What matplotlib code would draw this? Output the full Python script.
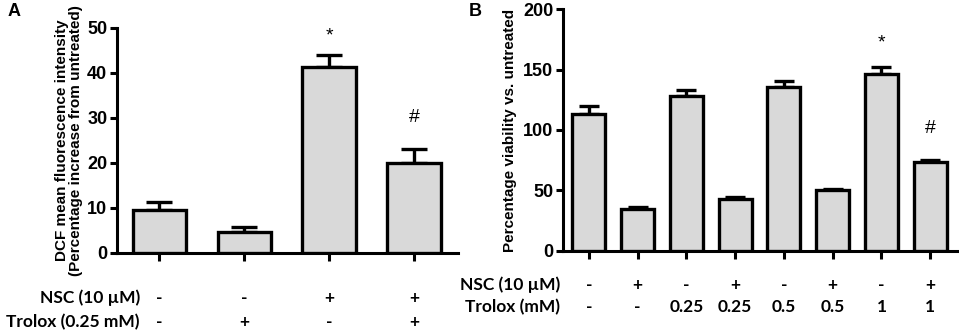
import matplotlib
matplotlib.use("Agg")
import matplotlib.pyplot as plt
import numpy as np

# panel A data
a_vals = [9.6, 4.7, 41.3, 19.9]
a_err = [1.8, 1.0, 2.7, 3.3]
a_nsc = ['-', '-', '+', '+']
a_trolox = ['-', '+', '-', '+']

# panel B data
b_vals = [113, 34.3, 128.4, 42.8, 135.6, 50.0, 146.4, 73.7]
b_err = [7.0, 2.2, 4.5, 2.0, 4.7, 1.4, 6.0, 1.7]
b_nsc = ['-', '+', '-', '+', '-', '+', '-', '+']
b_trolox = ['-', '-', '0.25', '0.25', '0.5', '0.5', '1', '1']

plt.rcParams['font.family'] = ['Liberation Sans', 'DejaVu Sans']
plt.rcParams['font.weight'] = 'bold'
row_font = ['Lato', 'DejaVu Sans']
row_size = 12.5

fig = plt.figure(figsize=(9.59, 3.32), dpi=100)
axA = fig.add_axes([0.122, 0.238, 0.3556, 0.6777])
axB = fig.add_axes([0.587, 0.2449, 0.411, 0.7271])

bar_col = '#d9d9d9'
lw = 2.4


def style_axis(ax):
    for s in ['top', 'right']:
        ax.spines[s].set_visible(False)
    for s in ['left', 'bottom']:
        ax.spines[s].set_linewidth(2.2)
    ax.tick_params(axis='both', width=2.2, length=5, labelsize=13, pad=2)
    ax.tick_params(axis='x', labelbottom=False, length=6)
    for t in ax.get_yticklabels():
        t.set_fontweight('bold')


def draw_bars(ax, vals, errs, width, capsize):
    x = np.arange(len(vals))
    ax.errorbar(x, vals, yerr=[np.zeros(len(vals)), errs], fmt='none',
                ecolor='black', elinewidth=lw, capsize=capsize, capthick=lw, zorder=2)
    ax.bar(x, vals, width=width, color=bar_col, edgecolor='black', linewidth=lw, zorder=3)
    ax.set_xticks(x)
    return x


def row_text(ax, x, y, s, trans, ha='center'):
    ax.text(x, y, s, transform=trans, ha=ha, va='center',
            fontsize=row_size, family=row_font, fontweight='bold')


# ---- panel A
xa = draw_bars(axA, a_vals, a_err, 0.63, 9.5)
axA.set_xlim(-0.5, 3.52)
axA.set_ylim(0, 50)
axA.set_yticks([0, 10, 20, 30, 40, 50])
style_axis(axA)
axA.set_ylabel('DCF mean fluorescence intensity\n(Percentage increase from untreated)',
               fontsize=11, fontweight='bold', labelpad=3, linespacing=1.0)
axA.text(xa[2], a_vals[2] + a_err[2] + 4.3, '*', ha='center', va='center', fontsize=14, fontweight='normal')
axA.text(xa[3], a_vals[3] + a_err[3] + 6.8, '#', ha='center', va='center', fontsize=14, fontweight='normal')

tA = axA.get_xaxis_transform()
row_text(axA, 0.067, -0.2, 'NSC (10 µM)', axA.transAxes, ha='right')
row_text(axA, 0.067, -0.307, 'Trolox (0.25 mM)', axA.transAxes, ha='right')
for i in range(len(a_vals)):
    row_text(axA, xa[i], -0.2, a_nsc[i], tA)
    row_text(axA, xa[i], -0.307, a_trolox[i], tA)

# ---- panel B
xb = draw_bars(axB, b_vals, b_err, 0.68, 7)
axB.set_xlim(-0.53, 7.55)
axB.set_ylim(0, 200)
axB.set_yticks([0, 50, 100, 150, 200])
style_axis(axB)
axB.set_ylabel('Percentage viability vs. untreated', fontsize=11, fontweight='bold', labelpad=4)
axB.text(xb[6], 171.8, '*', ha='center', va='center', fontsize=14, fontweight='normal')
axB.text(xb[7], 101.6, '#', ha='center', va='center', fontsize=14, fontweight='normal')

tB = axB.get_xaxis_transform()
row_text(axB, -0.008, -0.142, 'NSC (10 µM)', axB.transAxes, ha='right')
row_text(axB, -0.008, -0.232, 'Trolox (mM)', axB.transAxes, ha='right')
for i in range(len(b_vals)):
    row_text(axB, xb[i], -0.142, b_nsc[i], tB)
    row_text(axB, xb[i], -0.232, b_trolox[i], tB)

fig.text(0.008, 0.965, 'A', fontsize=13, fontweight='bold', va='center', ha='left')
fig.text(0.489, 0.965, 'B', fontsize=13, fontweight='bold', va='center', ha='left')

fig.savefig('out.png', dpi=100)
